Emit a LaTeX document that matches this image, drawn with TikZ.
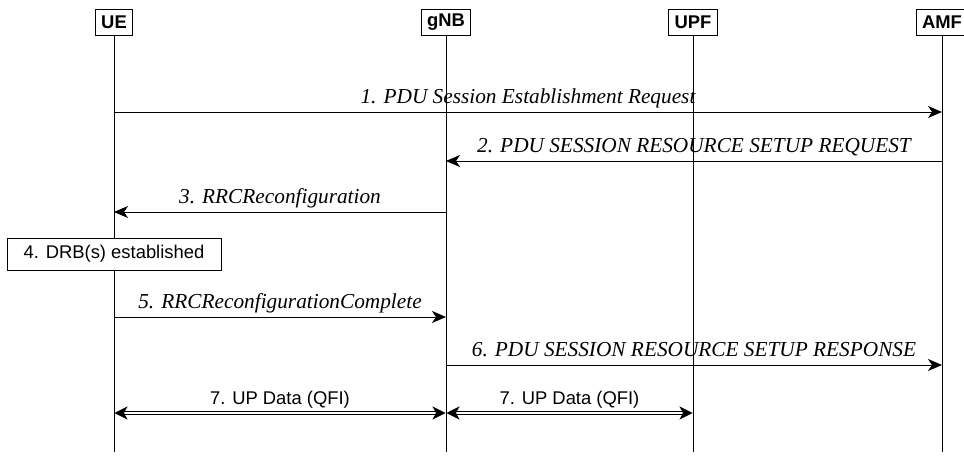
\documentclass[tikz,border=0pt]{standalone}
\usepackage{fontspec}
\setmainfont{Liberation Serif}
\setsansfont{Liberation Sans}
\usetikzlibrary{arrows.meta}

\begin{document}
\begin{tikzpicture}[x=1pt,y=-1pt,
    entity/.style={draw, line width=0.9pt, fill=white, font=\sffamily\bfseries\fontsize{18.4}{20}\selectfont, inner xsep=6pt, inner ysep=0pt, minimum height=26pt},
    life/.style={line width=0.8pt},
    msg/.style={line width=0.8pt, -{Stealth[length=14pt,width=12pt,inset=4pt]}},
    lbl/.style={font=\itshape\fontsize{21.3}{23}\selectfont, inner sep=0pt, text depth=4.5pt, above=4pt},
    data/.style={double, double distance=2.2pt, line width=0.9pt, {Stealth[length=13pt,width=13pt,inset=3.5pt]}-{Stealth[length=13pt,width=13pt,inset=3.5pt]}, shorten <=0.5pt, shorten >=0.5pt},
    dlbl/.style={font=\sffamily\fontsize{18.4}{20}\selectfont, inner sep=0pt, text depth=4pt, above=4pt},
    stepbox/.style={draw, line width=0.9pt, fill=white, font=\sffamily\fontsize{18.4}{20}\selectfont, minimum width=214pt, minimum height=32pt}]
    \useasboundingbox (0,0) rectangle (964,457);

    \node[entity] (UE) at (114,22) {UE};
    \node[entity] (gNB) at (446,22) {gNB};
    \node[entity] (UPF) at (693,22) {UPF};
    \node[entity] (AMF) at (942,22) {AMF};

    \coordinate (UEend) at (UE |- 0,452);
    \coordinate (gNBend) at (gNB |- 0,452);
    \coordinate (UPFend) at (UPF |- 0,452);
    \coordinate (AMFend) at (AMF |- 0,452);

    \draw[life] (UE) -- (UEend);
    \draw[life] (gNB) -- (gNBend);
    \draw[life] (UPF) -- (UPFend);
    \draw[life] (AMF) -- (AMFend);

    \draw[msg] (UE |- 0,112) -- (AMF |- 0,112) node[lbl, midway] {1. PDU Session Establishment Request};
    \draw[msg] (AMF |- 0,161) -- (gNB |- 0,161) node[lbl, midway] {2. PDU SESSION RESOURCE SETUP REQUEST};
    \draw[msg] (gNB |- 0,212) -- (UE |- 0,212) node[lbl, midway] {3. RRCReconfiguration};

    \node[stepbox] (drb) at (UE |- 0,254) {4. DRB(s) established};

    \draw[msg] (UE |- 0,317) -- (gNB |- 0,317) node[lbl, midway] {5. RRCReconfigurationComplete};
    \draw[msg] (gNB |- 0,365) -- (AMF |- 0,365) node[lbl, midway] {6. PDU SESSION RESOURCE SETUP RESPONSE};

    \draw[data] (UE |- 0,413) -- (gNB |- 0,413) node[dlbl, midway] {7. UP Data (QFI)};
    \draw[data] (gNB |- 0,413) -- (UPF |- 0,413) node[dlbl, midway] {7. UP Data (QFI)};
\end{tikzpicture}
\end{document}
